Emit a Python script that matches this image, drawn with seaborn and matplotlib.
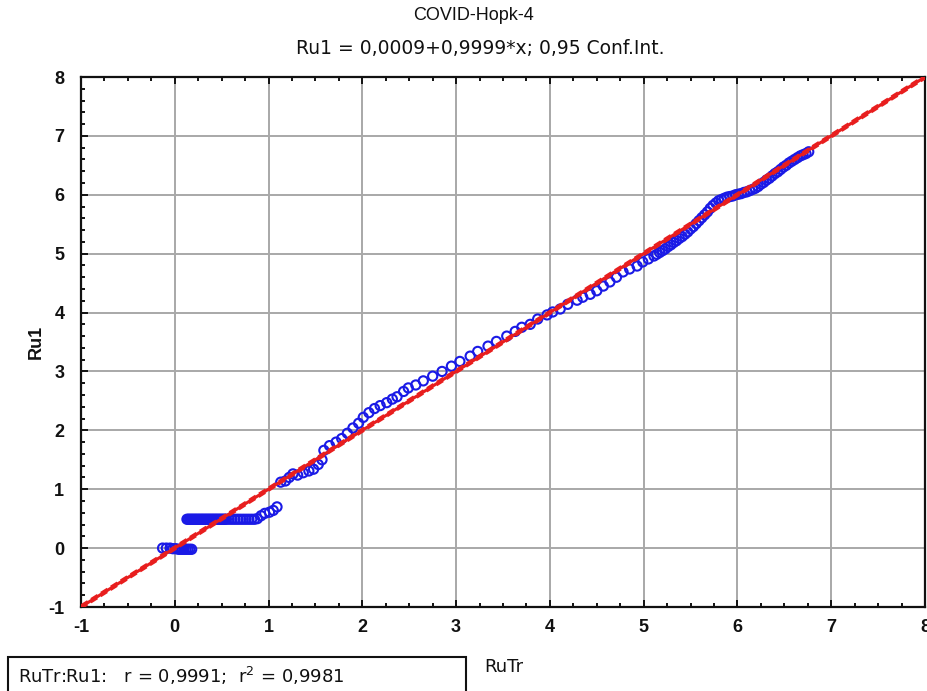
import numpy as np
import pandas as pd
import matplotlib
matplotlib.use("Agg")
import matplotlib.pyplot as plt
from matplotlib.ticker import AutoMinorLocator
from matplotlib.patches import Rectangle
import seaborn as sns

# ---------------- data ----------------
title_1 = "COVID-Hopk-4"
title_2 = "Ru1 = 0,0009+0,9999*x; 0,95 Conf.Int."
x_label = "RuTr"
y_label = "Ru1"
stats_text = "RuTr:Ru1:   r = 0,9991;  r$^2$ = 0,9981"

ticks = [-1, 0, 1, 2, 3, 4, 5, 6, 7, 8]
tick_labels = ["-1", "0", "1", "2", "3", "4", "5", "6", "7", "8"]

# cluster near zero
x_zero = [-0.13, -0.09, -0.05, -0.02, 0.01, 0.04, 0.06, 0.08, 0.10, 0.12, 0.14, 0.16, 0.18]
y_zero = [0.00, 0.00, 0.00, -0.01, -0.01, -0.02, -0.02, -0.02, -0.02, -0.02, -0.02, -0.02, -0.02]

# flat band near 0.5
x_half = [0.13, 0.145, 0.16, 0.175, 0.19, 0.205, 0.22, 0.235, 0.25, 0.265, 0.28, 0.295,
          0.31, 0.325, 0.34, 0.355, 0.37, 0.385, 0.40, 0.415, 0.43, 0.445, 0.46, 0.475,
          0.49, 0.505, 0.52, 0.535, 0.55, 0.58, 0.61, 0.64, 0.67, 0.70, 0.73, 0.76,
          0.79, 0.82, 0.85, 0.88, 0.92, 0.96, 1.01, 1.05, 1.09]
y_half = [0.49, 0.49, 0.49, 0.49, 0.49, 0.49, 0.49, 0.49, 0.49, 0.49, 0.49, 0.49,
          0.49, 0.49, 0.49, 0.49, 0.49, 0.49, 0.49, 0.49, 0.49, 0.49, 0.49, 0.49,
          0.49, 0.49, 0.49, 0.49, 0.49, 0.49, 0.49, 0.49, 0.49, 0.49, 0.49, 0.49,
          0.49, 0.49, 0.49, 0.50, 0.55, 0.59, 0.61, 0.64, 0.70]

# middle section
x_mid = [1.13, 1.18, 1.22, 1.26, 1.31, 1.37, 1.43, 1.48, 1.53, 1.57, 1.59, 1.65,
         1.72, 1.78, 1.84, 1.90, 1.96, 2.01, 2.07, 2.13, 2.19, 2.26, 2.32, 2.37,
         2.44, 2.49, 2.57, 2.65, 2.75, 2.85, 2.95, 3.04, 3.15, 3.23, 3.34, 3.43,
         3.54, 3.63, 3.70, 3.79, 3.87, 3.97, 4.03, 4.11, 4.19, 4.29, 4.35, 4.43,
         4.50, 4.57, 4.64, 4.71, 4.78, 4.85, 4.93, 4.99, 5.05, 5.11, 5.14]
y_mid = [1.12, 1.14, 1.20, 1.26, 1.24, 1.28, 1.31, 1.34, 1.42, 1.50, 1.66, 1.74,
         1.80, 1.86, 1.95, 2.04, 2.12, 2.22, 2.30, 2.37, 2.42, 2.47, 2.53, 2.57,
         2.66, 2.72, 2.77, 2.84, 2.92, 3.00, 3.09, 3.17, 3.26, 3.34, 3.43, 3.51,
         3.60, 3.68, 3.75, 3.80, 3.89, 3.96, 4.01, 4.06, 4.14, 4.21, 4.26, 4.31,
         4.37, 4.45, 4.52, 4.60, 4.69, 4.74, 4.79, 4.86, 4.91, 4.96, 4.99]

# dense upper section
x_top = [5.17, 5.20, 5.23, 5.26, 5.29, 5.32, 5.35, 5.38, 5.41, 5.44, 5.47, 5.50,
         5.53, 5.56, 5.59, 5.62, 5.65, 5.68, 5.71, 5.74, 5.77, 5.80, 5.83, 5.86,
         5.89, 5.92, 5.95, 5.98, 6.01, 6.04, 6.07, 6.10, 6.13, 6.16, 6.19, 6.22,
         6.25, 6.28, 6.31, 6.34, 6.37, 6.40, 6.43, 6.46, 6.49, 6.52, 6.55, 6.58,
         6.61, 6.64, 6.67, 6.70, 6.73, 6.76]
y_top = [5.02, 5.05, 5.08, 5.12, 5.15, 5.19, 5.22, 5.26, 5.29, 5.33, 5.37, 5.42,
         5.46, 5.51, 5.56, 5.61, 5.66, 5.71, 5.77, 5.82, 5.86, 5.90, 5.92, 5.94,
         5.96, 5.97, 5.98, 6.00, 6.01, 6.02, 6.04, 6.05, 6.07, 6.09, 6.11, 6.14,
         6.18, 6.21, 6.25, 6.28, 6.32, 6.36, 6.39, 6.43, 6.47, 6.50, 6.54, 6.57,
         6.60, 6.63, 6.66, 6.68, 6.70, 6.73]

# regression line and confidence band
fit_intercept = 0.0009
fit_slope = 0.9999
fit_x = [-1.0, 8.0]
ci_halfwidth = 0.03

# ---------------- figure ----------------
sns.set_style("white")
plt.rcParams["font.family"] = ["Liberation Sans", "DejaVu Sans"]
plt.rcParams["axes.unicode_minus"] = False

W, H = 927, 691
fig = plt.figure(figsize=(W / 100, H / 100), dpi=100)
ax = fig.add_axes([81 / W, 1 - 607 / H, (925 - 81) / W, (607 - 77) / H])

pts = pd.DataFrame({
    "x": x_zero + x_half + x_mid + x_top,
    "y": y_zero + y_half + y_mid + y_top,
})

blue = "#1a1ae6"
red = "#e81e1e"

sns.scatterplot(data=pts, x="x", y="y", ax=ax, marker="o", s=44,
                facecolors="none", edgecolor=blue, linewidth=1.5, zorder=3)

fx = np.array(fit_x)
line = pd.DataFrame({"x": fx, "y": fit_intercept + fit_slope * fx})
lo = pd.DataFrame({"x": fx, "y": fit_intercept + fit_slope * fx - ci_halfwidth})
hi = pd.DataFrame({"x": fx, "y": fit_intercept + fit_slope * fx + ci_halfwidth})
sns.lineplot(data=line, x="x", y="y", ax=ax, color=red, linewidth=2.2, zorder=4)
sns.lineplot(data=lo, x="x", y="y", ax=ax, color=red, linewidth=1.4,
             linestyle=(0, (4, 2)), zorder=4)
sns.lineplot(data=hi, x="x", y="y", ax=ax, color=red, linewidth=1.4,
             linestyle=(0, (4, 2)), zorder=4)

ax.set_xlim(ticks[0], ticks[-1])
ax.set_ylim(ticks[0], ticks[-1])
ax.set_xticks(ticks)
ax.set_yticks(ticks)
ax.set_xticklabels(tick_labels, fontfamily="Liberation Sans", fontweight="bold")
ax.set_yticklabels(tick_labels, fontfamily="Liberation Sans", fontweight="bold")
ax.xaxis.set_minor_locator(AutoMinorLocator(4))
ax.yaxis.set_minor_locator(AutoMinorLocator(5))

ax.grid(True, which="major", color="#a8a8a8", linewidth=1.4, zorder=0)
ax.set_axisbelow(True)
for sp in ax.spines.values():
    sp.set_color("#111111")
    sp.set_linewidth(1.6)
    sp.set_visible(True)

ax.tick_params(which="major", direction="in", length=5, width=1.4, colors="#111111",
               labelsize=13, pad=9, top=True, right=False, left=True, bottom=True)
ax.tick_params(which="minor", direction="in", length=3, width=1.4, colors="#111111",
               top=True, left=True, bottom=True, right=False)
ax.tick_params(axis="y", pad=12)

ax.set_xlabel("")
ax.set_ylabel(y_label, fontsize=13, fontweight="bold", color="#111111",
              fontfamily="Liberation Sans")
ax.yaxis.set_label_coords(-(81 - 36) / 844, 0.5)
ax.yaxis.label.set_va("center")

fig.text(473 / W, 1 - 15 / H, title_1, ha="center", va="center", fontsize=13,
         color="#111111", family=["Liberation Sans"])
fig.text(480 / W, 1 - 48 / H, title_2, ha="center", va="center", fontsize=13.5,
         color="#111111", family=["DejaVu Sans"])

fig.text(484 / W, 1 - 667 / H, x_label, ha="left", va="center", fontsize=13,
         color="#111111", family=["DejaVu Sans"])
fig.patches.append(Rectangle((8 / W, -0.02), (466 - 8) / W, (691 - 657) / H + 0.02,
                             transform=fig.transFigure, fill=False,
                             edgecolor="#111111", linewidth=1.5))
fig.text(18 / W, 1 - 676 / H, stats_text, ha="left", va="center", fontsize=13,
         color="#111111", family=["DejaVu Sans"])

fig.savefig("out.png", dpi=100)
